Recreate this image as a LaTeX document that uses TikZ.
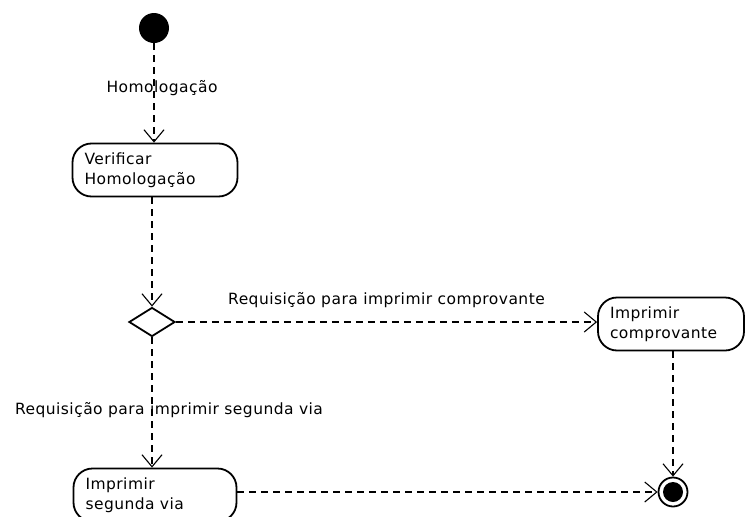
\documentclass[tikz,border=0pt]{standalone}
\usepackage{fontspec}
\setmainfont{DejaVu Sans}[LetterSpace=3]
\usepackage{tikz}
\usetikzlibrary{shapes}
\usetikzlibrary{arrows.meta}
\usetikzlibrary{positioning}

\begin{document}
\begin{tikzpicture}[x=1pt,y=-1pt,font=\fontsize{15.5}{20.5}\selectfont]
\tikzstyle{action} = [rectangle, draw, line width=1.8pt, rounded corners=19pt,
align=left, inner xsep=12pt, inner ysep=0pt, minimum height=53pt]
\tikzstyle{decision} = [diamond, draw, line width=1.8pt, minimum width=46pt,
minimum height=29pt, inner sep=0pt]
\tikzstyle{line} = [draw, line width=1.1pt, dash pattern=on 7pt off 5pt,
-{Straight Barb[length=12pt,width=20pt,line width=1.1pt]}]
\useasboundingbox (0,0) rectangle (745,517);
% start and end
\node [circle, fill, inner sep=0pt, minimum size=30pt] (start) at (154,28) {};
\node [circle, draw, line width=1.8pt, inner sep=0pt, minimum size=29pt] (final) at (673,492) {};
\fill (final.center) circle (10pt);
% actions
\node [action, text width=141pt] (verify) at (155,170) {Verificar\\Homologação};
\node [decision] (decide) at (152,322) {};
\node [action, text width=122pt] (printreceipt) at (671,324) {Imprimir\\comprovante};
\node [action, text width=139pt] (printcopy) at (155,495) {Imprimir\\segunda via};
% flows
\draw [line] (start) -- node [pos=0.45, xshift=8pt] (homol) {Homologação} (verify.north -| start);
\draw [line] (verify.south -| decide) -- (decide.north);
\draw [line] (decide.east) -- node [pos=0.5, yshift=22pt] (reqreceipt) {Requisição para imprimir comprovante} (decide.east -| printreceipt.west);
\draw [line] (decide.south) -- node [pos=0.56, xshift=17pt] (reqcopy) {Requisição para imprimir segunda via} (printcopy.north -| decide);
\draw [line] (printreceipt.south -| final) -- (final.north);
\draw [line] (printcopy.east |- final) -- (final.west);
\end{tikzpicture}
\end{document}
